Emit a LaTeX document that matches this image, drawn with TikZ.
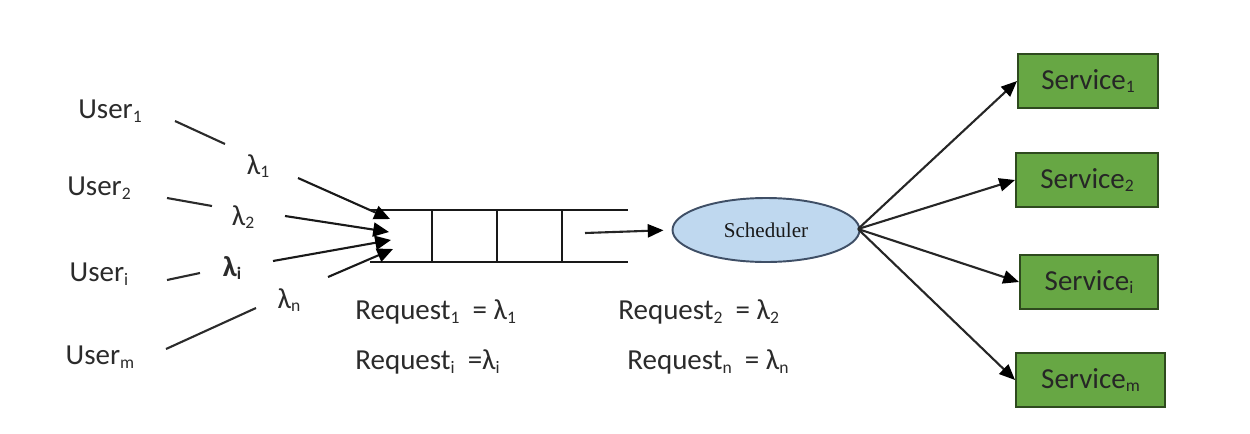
\documentclass[tikz,border=0pt]{standalone}
\usepackage{fontspec}
\setmainfont{Carlito}
\newfontfamily\schedfont{Liberation Serif}
\usetikzlibrary{arrows.meta,shapes.geometric}
\definecolor{txt}{HTML}{2B2B2B}
\definecolor{svcfill}{HTML}{67A744}
\definecolor{svcline}{HTML}{2E4A1E}
\definecolor{schedfill}{HTML}{BFD8EF}
\definecolor{schedline}{HTML}{3F4F66}
% small index set just under the baseline
\newcommand{\sub}[1]{\raisebox{-0.12em}{\fontsize{10}{11}\selectfont #1}}
\begin{document}
\begin{tikzpicture}[x=0.02cm,y=-0.02cm,
  lbl/.style={text=txt,font=\fontsize{16.5}{19}\selectfont,inner sep=0pt},
  lam/.style={text=txt,font=\fontsize{16.5}{19}\selectfont,inner sep=0pt},
  seg/.style={draw=txt,line width=1.2pt},
  feed/.style={draw=black!90,line width=1.2pt,-{Triangle[length=9pt,width=8pt,fill=black,color=black]}},
  qline/.style={draw=black!90,line width=1.2pt},
  svc/.style={draw=svcline,fill=svcfill,line width=1.1pt,
    text=black!85,font=\fontsize{16.5}{19}\selectfont,inner sep=0pt},
  fanout/.style={draw=black!85,line width=1.2pt,-{Triangle[length=9pt,width=7.5pt,fill=black,color=black]}}]
\useasboundingbox (0,0) rectangle (1250,433);

% users
\node[lbl] (u1) at (110,111) {User\sub{1}};
\node[lbl] (u2) at (99,188) {User\sub{2}};
\node[lbl] (ui) at (99,274) {User\sub{i}};
\node[lbl] (um) at (100,357) {User\sub{m}};

% arrival rates
\node[lam] (l1) at (258,166) {λ\sub{1}};
\node[lam] (l2) at (243,217) {λ\sub{2}};
\node[lam] (li) at (232,268) {\bfseries λ\sub{i}};
\node[lam] (ln) at (289,300) {λ\sub{n}};

% user-side segments
\coordinate (a1) at (175,121); \coordinate (b1) at (225,144);
\coordinate (a2) at (167,198); \coordinate (b2) at (212,206);
\coordinate (ai) at (167,280); \coordinate (bi) at (200,273);
\coordinate (am) at (166,349); \coordinate (bm) at (256,308);
\draw[seg] (a1) -- (b1);
\draw[seg] (a2) -- (b2);
\draw[seg] (ai) -- (bi);
\draw[seg] (am) -- (bm);

% queue
\coordinate (qtl) at (370,210); \coordinate (qtr) at (628,210);
\coordinate (qbl) at (370,262); \coordinate (qbr) at (628,262);
\draw[qline] (qtl) -- (qtr);
\draw[qline] (qbl) -- (qbr);
\foreach \xx in {432,497,562} \draw[qline] (\xx,210) -- (\xx,262);

% arrivals into the queue
\coordinate (c1) at (298,178); \coordinate (d1) at (390,219);
\coordinate (c2) at (285,216); \coordinate (d2) at (389,232);
\coordinate (ci) at (273,261); \coordinate (di) at (391,240);
\coordinate (cn) at (328,277); \coordinate (dn) at (393,249);
\draw[feed] (c1) -- (d1);
\draw[feed] (c2) -- (d2);
\draw[feed] (ci) -- (di);
\draw[feed] (cn) -- (dn);

% scheduler
\node[ellipse,draw=schedline,fill=schedfill,line width=1.1pt,
  minimum width=187*0.02cm,minimum height=64*0.02cm,inner sep=0pt,
  font=\schedfont\fontsize{12}{14}\selectfont,text=black!90] (sch) at (766,230) {Scheduler};
\coordinate (qout) at (585,233);
\draw[fanout,shorten >=8*0.02cm] (qout) -- (sch.west);

% services
\tikzset{svcbox/.style={svc,minimum width=#1*0.02cm,minimum height=54*0.02cm}}
\node[svcbox=140] (s1) at (1088,81) {Service\sub{1}};
\node[svcbox=142] (s2) at (1087,180) {Service\sub{2}};
\node[svcbox=138] (si) at (1089,282) {Service\sub{i}};
\node[svcbox=149] (sm) at (1090.5,380) {Service\sub{m}};

\coordinate (fan) at (858,229);
\draw[fanout] (fan) -- (s1.west);
\draw[fanout] (fan) -- (s2.west);
\draw[fanout] (fan) -- (si.west);
\draw[fanout] (fan) -- (sm.west);

% request rates
\node[lbl,anchor=west] (r1) at (355,312) {Request\sub{1} \ = λ\sub{1}};
\node[lbl,anchor=west] (r2) at (618,312) {Request\sub{2} \ = λ\sub{2}};
\node[lbl,anchor=west] (ri) at (355,362) {Request\sub{i} \ =λ\sub{i}};
\node[lbl,anchor=west] (rn) at (627,362) {Request\sub{n} \ = λ\sub{n}};
\end{tikzpicture}
\end{document}
